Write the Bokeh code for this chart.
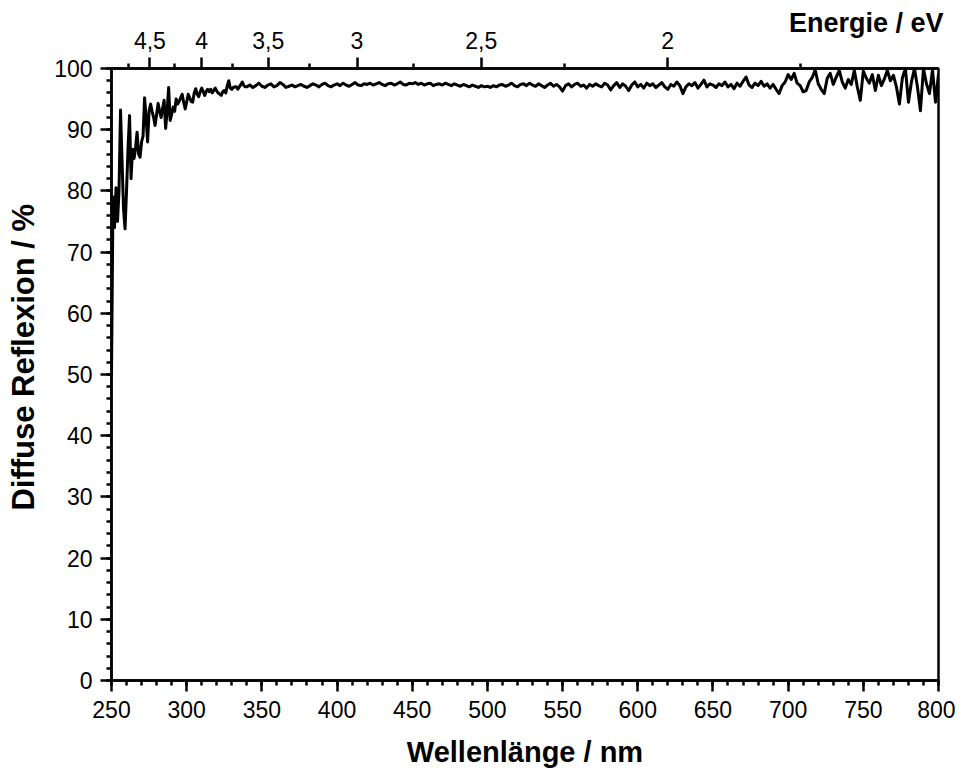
from bokeh.plotting import figure
from bokeh.models import (Range1d, LinearAxis, FixedTicker, CustomJSTickFormatter)
from bokeh.embed import file_html
from bokeh.resources import INLINE

# ---- data ----
wl_a = list(range(250, 340, 1))
refl_a = [50.0, 79.0, 74.0, 80.5, 75.0, 80.0, 93.2, 85.0, 77.0, 73.8,
          80.0, 87.0, 92.3, 82.0, 86.8, 85.3, 87.0, 89.6, 86.0, 85.5,
          88.0, 89.0, 95.2, 92.0, 88.0, 93.0, 94.2, 93.0, 92.0, 90.7,
          92.5, 94.3, 93.0, 92.0, 93.5, 94.8, 90.2, 93.0, 96.9, 91.5,
          92.5, 93.7, 93.0, 95.0, 94.2, 94.6, 95.2, 95.8, 94.5, 93.4,
          94.5, 95.8, 95.2, 94.6, 94.5, 96.0, 96.7, 95.8, 95.4, 96.2,
          96.8, 96.2, 95.6, 96.3, 96.6, 96.2, 96.6, 96.0, 96.4, 96.8,
          96.3, 96.0, 95.8, 95.6, 96.2, 96.4, 96.0, 97.2, 98.0, 96.8,
          96.6, 96.9, 97.0, 97.0, 96.6, 97.0, 97.4, 97.8, 97.2, 97.0]
wl_b = list(range(340, 802, 2))
refl_b = [97.0, 97.3, 96.9, 97.2, 97.6, 97.1, 96.9, 97.3, 97.5, 97.0,
          97.2, 97.7, 97.4, 96.9, 97.1, 97.3, 97.0, 97.2, 97.4, 97.1,
          96.9, 97.2, 97.5, 97.3, 97.0, 97.4, 97.6, 97.2, 97.0, 97.3,
          # 400
          97.5, 97.2, 97.6, 97.3, 97.1, 97.4, 97.7, 97.3, 97.2, 97.5,
          97.4, 97.6, 97.3, 97.5, 97.7, 97.4, 97.2, 97.5, 97.6, 97.3,
          97.5, 97.8, 97.4, 97.3, 97.6,
          # 450
          97.5, 97.7, 97.4, 97.6, 97.3, 97.5, 97.6, 97.2, 97.4, 97.5,
          97.3, 97.6, 97.4, 97.2, 97.5, 97.3, 97.1, 97.4, 97.2, 97.0,
          97.3, 97.1, 96.9, 97.2, 97.0,
          # 500
          97.1, 96.9, 97.2, 97.0, 97.3, 97.4, 97.1, 97.3, 97.6, 97.2,
          97.0, 97.4, 97.5, 97.2, 97.6, 97.3, 97.1, 97.5, 97.2, 96.9,
          97.3, 97.6, 97.1, 97.4, 97.0,
          # 550
          96.3, 97.2, 97.5, 97.0, 97.4, 97.6, 97.1, 97.3, 96.8, 97.4,
          97.1, 97.5, 97.2, 97.0, 97.6, 97.3, 96.5, 97.2, 97.7, 96.9,
          97.5, 97.1, 96.4, 97.3, 97.8,
          # 600
          97.0, 97.4, 96.8, 97.6, 97.2, 97.5, 96.9, 97.3, 97.7, 97.0,
          96.6, 97.4, 97.1, 97.8, 97.2, 95.9, 97.0, 97.5, 97.2, 97.7,
          96.8, 97.4, 98.1, 97.0, 97.5,
          # 650
          97.3, 96.9, 97.5, 97.2, 97.8, 97.0, 97.4, 96.7, 97.6, 97.1,
          97.9, 98.6, 97.3, 96.9, 97.6, 97.2, 97.9, 97.1, 97.5, 96.8,
          97.4, 96.6, 95.9, 97.2, 97.8,
          # 700
          99.0, 98.2, 99.2, 97.6, 97.2, 96.2, 96.4, 97.8, 98.5, 99.8,
          97.5, 96.6, 95.9, 98.4, 99.2, 97.4, 98.6, 99.7, 97.8, 96.8,
          98.2, 97.4, 99.7, 97.0, 94.8,
          # 750
          99.6, 98.4, 97.6, 99.0, 96.4, 98.9, 97.2, 98.3, 99.7, 98.0,
          98.9, 97.0, 94.2, 98.5, 100.0, 94.5, 97.8, 100.0, 97.0, 93.1,
          100.0, 97.5, 95.9, 99.8, 94.5, 99.1]
wavelength = wl_a + wl_b
reflexion = refl_a + refl_b

x_major = list(range(250, 801, 50))
x_minor = list(range(250, 801, 10))
y_major = list(range(0, 101, 10))
y_minor = list(range(0, 101, 2))
energy_major = [4.5, 4.0, 3.5, 3.0, 2.5, 2.0]
energy_minor = [4.75, 4.25, 3.75, 3.25, 2.75, 2.25, 1.75]
HC = 1239.84  # eV*nm

FONT = "Liberation Sans"
NBSP = "\u00a0"

p = figure(width=955, height=776, x_range=Range1d(250, 800), y_range=Range1d(0, 100),
           output_backend="svg", toolbar_location=None,
           x_axis_location=None, y_axis_location=None,
           min_border_left=111, min_border_right=17, min_border_top=68, min_border_bottom=96)
p.grid.visible = False
p.outline_line_color = "black"
p.outline_line_width = 2.5
p.background_fill_color = "white"
p.border_fill_color = "white"

def style(ax, standoff, label_size):
    ax.axis_line_width = 2.5
    ax.axis_line_color = "black"
    ax.major_tick_line_width = 2.5
    ax.minor_tick_line_width = 2.5
    ax.major_tick_out = 11
    ax.major_tick_in = 0
    ax.minor_tick_out = 5
    ax.minor_tick_in = 0
    ax.major_label_text_font = FONT
    ax.major_label_text_font_size = "23px"
    ax.major_label_text_color = "black"
    ax.major_label_standoff = standoff
    ax.axis_label_text_font = FONT
    ax.axis_label_text_font_size = label_size
    ax.axis_label_text_font_style = "bold"
    ax.axis_label_text_color = "black"

xb = LinearAxis(ticker=FixedTicker(ticks=x_major, minor_ticks=x_minor),
                axis_label="Wellenlänge / nm")
style(xb, 9, "29px")
xb.axis_label_standoff = 15
p.add_layout(xb, "below")

yl = LinearAxis(ticker=FixedTicker(ticks=y_major, minor_ticks=y_minor),
                axis_label=NBSP * 4 + "Diffuse Reflexion / %")
style(yl, 8, "31px")
yl.axis_label_standoff = 10
p.add_layout(yl, "left")

xt = LinearAxis(ticker=FixedTicker(ticks=[HC / e for e in energy_major],
                                   minor_ticks=[HC / e for e in energy_minor]),
                formatter=CustomJSTickFormatter(code="""
                    const e = Math.round(1239.84 / tick * 4) / 4;
                    return e.toString().replace('.', ',');
                """),
                axis_label=NBSP * 91 + "Energie / eV")
style(xt, 9, "27px")
xt.axis_label_standoff = -9
p.add_layout(xt, "above")

p.line(wavelength, reflexion, line_width=3, line_color="black", line_join="round")

open("out.html", "w").write(file_html(p, INLINE))
